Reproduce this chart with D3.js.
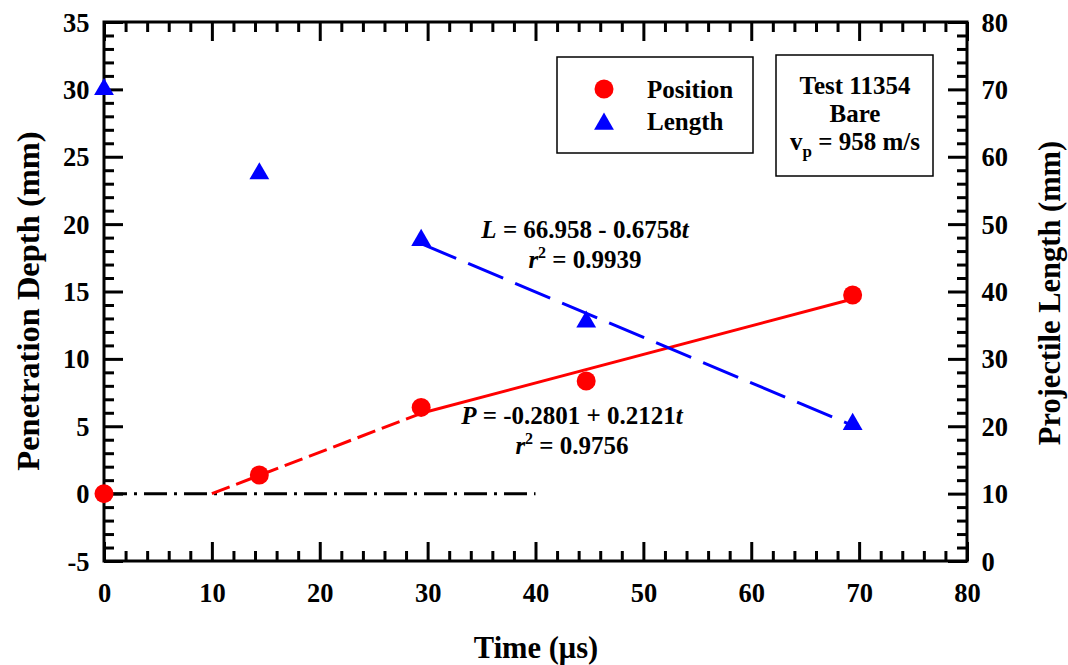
<!DOCTYPE html>
<html>
<head>
<meta charset="utf-8">
<script src="https://cdn.jsdelivr.net/npm/d3@7"></script>
<style>
body { margin:0; background:#fff; }
</style>
</head>
<body>
<div id="chart"></div>
<script>
//----
//Data
//----
var posTime = [0, 14.4, 29.4, 44.7, 69.4]
var posDepth = [0, 1.38, 6.4, 8.36, 14.74]
var lenTime = [0, 14.4, 29.4, 44.7, 69.4]
var lenValue = [70, 57.5, 47.6, 35.5, 20.3]

//fit lines (time, value) pairs
var posFitDash = [[10, 0], [29.4, 5.96]]
var posFitSolid = [[29.4, 5.96], [69.4, 14.44]]
var lenFit = [[29.4, 47.1], [69.4, 20.1]]
var zeroLine = [[0, 0], [40, 0]]

var xTicks = [0, 10, 20, 30, 40, 50, 60, 70, 80]
var yLeftTicks = [-5, 0, 5, 10, 15, 20, 25, 30, 35]
var yRightTicks = [0, 10, 20, 30, 40, 50, 60, 70, 80]

var _width = 1068,
	_height = 665

var _font = "'Liberation Serif'"

var _plot = { left: 104, right: 967, top: 22, bottom: 561 }

var _svg = d3.select('#chart').append('svg')
	.attr('width', _width)
	.attr('height', _height)

var x = d3.scaleLinear().domain([0, 80]).range([_plot.left, _plot.right])
var yL = d3.scaleLinear().domain([-5, 35]).range([_plot.bottom, _plot.top])
var yR = d3.scaleLinear().domain([0, 80]).range([_plot.bottom, _plot.top])

//minor tick values
function minors(lo, hi, step, majorStep){
	var out = []
	for ( var v = lo; v <= hi + 1e-9; v += step ){
		var r = Math.round(v * 1000) / 1000
		if ( Math.abs(r / majorStep - Math.round(r / majorStep)) > 1e-6 ) out.push(r)
	}
	return out
}

//-----
//Axes
//-----
function drawAxis(axisFn, scale, majors, minorVals, tx, ty, showLabels){
	var g = _svg.append('g').attr('transform', 'translate(' + tx + ',' + ty + ')')
	g.call(axisFn(scale).tickValues(majors).tickSize(-19).tickPadding(showLabels ? 14.5 : 0)
		.tickFormat(showLabels ? function(d){ return String(d) } : ''))
	var gm = _svg.append('g').attr('transform', 'translate(' + tx + ',' + ty + ')')
	gm.call(axisFn(scale).tickValues(minorVals).tickSize(-10).tickFormat(''))
	;[g, gm].forEach(function(s){
		s.attr('font-family', null)
		s.select('.domain').remove()
		s.selectAll('.tick line').attr('stroke', '#000').attr('stroke-width', 3)
	})
	g.selectAll('.tick text')
		.style('font-family', _font).style('font-weight', 'bold')
		.style('font-size', '26.5px').attr('fill', '#000')
	return g
}

var gxB = drawAxis(d3.axisBottom, x, xTicks, minors(0, 80, 2, 10), 0, _plot.bottom, true)
gxB.selectAll('.tick text').attr('y', 41).attr('dy', 0)
drawAxis(d3.axisTop, x, xTicks, minors(0, 80, 2, 10), 0, _plot.top, false)
var gyL = drawAxis(d3.axisLeft, yL, yLeftTicks, minors(-5, 35, 1, 5), _plot.left, 0, true)
gyL.selectAll('.tick text').attr('dy', '0.34em')
var gyR = drawAxis(d3.axisRight, yR, yRightTicks, minors(0, 80, 2, 10), _plot.right, 0, true)
gyR.selectAll('.tick text').attr('dy', '0.34em')

//frame
_svg.append('rect')
	.attr('x', _plot.left).attr('y', _plot.top)
	.attr('width', _plot.right - _plot.left).attr('height', _plot.bottom - _plot.top)
	.attr('fill', 'none').attr('stroke', '#000').attr('stroke-width', 3)

function label(xp, yp, size){
	return _svg.append('text').attr('x', xp).attr('y', yp)
		.style('font-family', _font).style('font-weight', 'bold')
		.style('font-size', size + 'px').attr('fill', '#000')
}

//axis titles
label(536, 658, 30.5).attr('text-anchor', 'middle').text('Time (\u03bcs)')
label(0, 0, 32.5).attr('transform', 'translate(39,301) rotate(-90)').attr('text-anchor', 'middle')
	.text('Penetration Depth (mm)')
label(0, 0, 30.5).attr('transform', 'translate(1060,293) rotate(-90)').attr('text-anchor', 'middle')
	.text('Projectile Length (mm)')

//-----
//Lines
//-----
var lineL = d3.line().x(function(d){ return x(d[0]) }).y(function(d){ return yL(d[1]) })
var lineR = d3.line().x(function(d){ return x(d[0]) }).y(function(d){ return yR(d[1]) })

_svg.append('path').datum(zeroLine).attr('d', lineL)
	.attr('fill', 'none').attr('stroke', '#000').attr('stroke-width', 3)
	.attr('stroke-dasharray', '23,7,3,7')
_svg.append('path').datum(posFitDash).attr('d', lineL)
	.attr('fill', 'none').attr('stroke', '#ff0000').attr('stroke-width', 3)
	.attr('stroke-dasharray', '19,7')
_svg.append('path').datum(posFitSolid).attr('d', lineL)
	.attr('fill', 'none').attr('stroke', '#ff0000').attr('stroke-width', 3)
_svg.append('path').datum(lenFit).attr('d', lineR)
	.attr('fill', 'none').attr('stroke', '#0000ff').attr('stroke-width', 3)
	.attr('stroke-dasharray', '38,13')

//-------
//Markers
//-------
var triangle = d3.symbol().type(d3.symbolTriangle).size(170)

_svg.append('g').selectAll('circle').data(posTime).enter().append('circle')
	.attr('cx', function(d){ return x(d) })
	.attr('cy', function(d, i){ return yL(posDepth[i]) })
	.attr('r', 9.5)
	.attr('fill', '#ff0000')

_svg.append('g').selectAll('path').data(lenTime).enter().append('path')
	.attr('d', triangle)
	.attr('transform', function(d, i){ return 'translate(' + x(d) + ',' + yR(lenValue[i]) + ')' })
	.attr('fill', '#0000ff')

//------
//Legend
//------
_svg.append('rect').attr('x', 557).attr('y', 57).attr('width', 196).attr('height', 96)
	.attr('fill', '#fff').attr('stroke', '#000').attr('stroke-width', 1.5)
_svg.append('circle').attr('cx', 604).attr('cy', 89).attr('r', 9.5).attr('fill', '#ff0000')
_svg.append('path').attr('d', triangle).attr('transform', 'translate(604,124)').attr('fill', '#0000ff')
label(647, 98, 25).text('Position')
label(647, 130, 25).text('Length')

//info box
_svg.append('rect').attr('x', 776).attr('y', 55).attr('width', 157).attr('height', 121)
	.attr('fill', '#fff').attr('stroke', '#000').attr('stroke-width', 1.5)
label(855, 94, 25).attr('text-anchor', 'middle').text('Test 11354')
label(855, 122, 25).attr('text-anchor', 'middle').text('Bare')
var vp = label(855, 150, 25).attr('text-anchor', 'middle')
vp.append('tspan').text('v')
vp.append('tspan').attr('dy', 7).style('font-size', '17px').text('p')
vp.append('tspan').attr('dy', -7).text(' = 958 m/s')

//-----------
//Annotations
//-----------
function equation(cx, cy, sym, rest, r2){
	var t1 = label(cx, cy, 25).attr('text-anchor', 'middle')
	t1.append('tspan').style('font-style', 'italic').text(sym)
	t1.append('tspan').text(rest)
	t1.append('tspan').style('font-style', 'italic').text('t')
	var t2 = label(cx, cy + 30, 25).attr('text-anchor', 'middle')
	t2.append('tspan').style('font-style', 'italic').text('r')
	t2.append('tspan').attr('dy', -10).style('font-size', '16px').text('2')
	t2.append('tspan').attr('dy', 10).text(' = ' + r2)
}
equation(585, 238, 'L', ' = 66.958 - 0.6758', '0.9939')
equation(572, 424, 'P', ' = -0.2801 + 0.2121', '0.9756')
</script>
</body>
</html>
